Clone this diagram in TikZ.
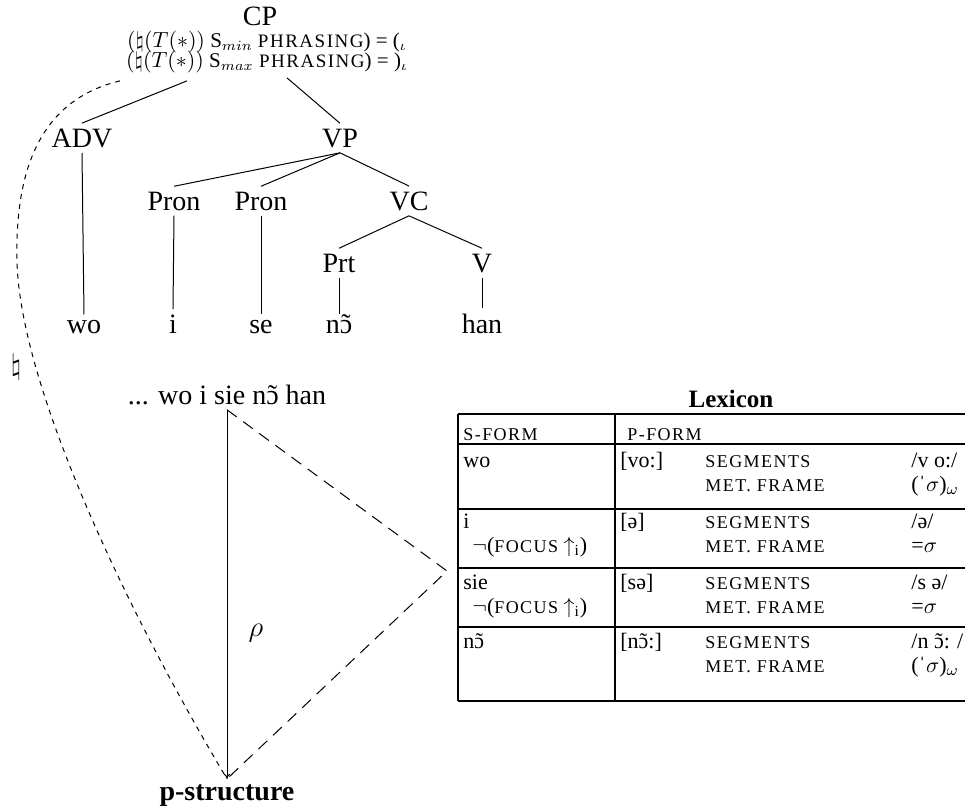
\documentclass[tikz,border=0pt]{standalone}
\usepackage{fontspec}
\setmainfont{Liberation Serif}
\newfontfamily\scfont[LetterSpace=8]{Liberation Serif}
\usetikzlibrary{arrows.meta,positioning,calc}
\newcommand{\smc}[2][9]{{\scfont\fontsize{#1}{#1}\selectfont #2}}
\newcommand{\nas}{\ooalign{ɔ\cr\hidewidth˜\hidewidth\cr}}
\tikzset{
  cat/.style={font=\fontsize{14}{16}\selectfont, inner sep=2.5pt, anchor=base},
  feat/.style={font=\fontsize{10.5}{12}\selectfont, inner sep=1pt, anchor=base},
  branch/.style={draw, line width=0.5pt},
  link/.style={draw, line width=0.5pt, dash pattern=on 2.5pt off 2.5pt},
  tri/.style={draw, line width=0.5pt, dash pattern=on 6pt off 4pt},
  proj/.style={branch, -{To[length=2.5pt,width=3pt]}},
  rule/.style={draw, line width=1pt},
  cell/.style={font=\fontsize{11}{13}\selectfont, inner sep=0pt, anchor=base west},
  lextitle/.style={font=\fontsize{12.5}{14}\selectfont\bfseries, anchor=base}
}
\begin{document}
\begin{tikzpicture}[x=0.5pt,y=-0.5pt]
\useasboundingbox (0,0) rectangle (965,811);
% c-structure
\node[cat] (cp) at (260,25) {CP};
\node[feat] (cpa) at (267,47) {$(\natural(T(*))$ S$_{min}$ \smc[9.5]{PHRASING}) = ($_\iota$};
\node[feat] (cpb) at (267,67) {$(\natural(T(*))$ S$_{max}$ \smc[9.5]{PHRASING}) = )$_\iota$};
\node[cat] (adv) at (82,147) {ADV};
\node[cat] (vp) at (340,147) {VP};
\node[cat] (pron1) at (174,210) {Pron};
\node[cat] (pron2) at (261,210) {Pron};
\node[cat] (vc) at (409,210) {VC};
\node[cat] (prt) at (339,272) {Prt};
\node[cat] (v) at (482,272) {V};
\node[cat] (wo) at (84,333) {wo};
\node[cat] (i) at (173,333) {i};
\node[cat] (se) at (261,333) {se};
\node[cat] (no) at (339,333) {n\nas};
\node[cat] (han) at (482,333) {han};
\draw[branch] ($(cpb.south)+(-80,6)$) -- (adv.north);
\draw[branch] ($(cpb.south)+(20,3)$) -- (vp.north);
\draw[branch] (vp.south) -- (pron1.north);
\draw[branch] (vp.south) -- (pron2.north);
\draw[branch] (vp.south) -- (vc.north);
\draw[branch] (vc.south) -- (prt.north);
\draw[branch] (vc.south) -- (v.north);
\draw[branch] (adv.south) -- (wo.north);
\draw[branch] (pron1.south) -- (i.north);
\draw[branch] (pron2.south) -- (se.north);
\draw[branch] (prt.south) -- (no.north);
\draw[branch] (v.south) -- (han.north);
% string and p-structure
\node[cat] (surf) at (227,404) {... wo i sie n\nas{} han};
\node[cat, font=\fontsize{14}{16}\selectfont\bfseries] (pstr) at (227,800) {p-structure};
\node[cat] (rho) at (256,636) {$\rho$};
\node[cat] (nat) at (16,374) {$\natural$};
\coordinate (apex) at (447,571);
\draw[proj] (surf.south) -- (pstr.north);
\draw[tri] (surf.south) -- (apex) -- (pstr.north);
\draw[link] ($(cpb.south)+(-147,6)$) .. controls (40,100) and (15,170) .. (17,260)
  .. controls (19,380) and (120,600) .. (pstr.north);
% lexicon
\node[lextitle] (lex) at (731,407) {Lexicon};
\foreach \y in {414,444,509,568,627,701}
  \draw[rule] (458,\y) -- (965,\y);
\draw[rule] (458,414) -- (458,701);
\draw[rule] (615,414) -- (615,701);
\node[cell] (sfh) at (463,440) {\smc{S-FORM}};
\node[cell] (pfh) at (627,440) {\smc{P-FORM}};
\foreach \y [count=\r] in {467,528,589,648} {
  \node[cell] (seg\r) at (705,\y) {\smc{SEGMENTS}};
  \node[cell] (met\r) at (705,\y+24) {\smc{MET. FRAME}};
}
\node[cell] (sf1) at (463,467) {wo};
\node[cell] (pf1) at (620,467) {[vo:]};
\node[cell] (sv1) at (911,467) {/v o:/};
\node[cell] (mv1) at (911,491) {(ˈ$\sigma$)$_\omega$};
\node[cell] (sf2) at (463,528) {i};
\node[cell] (fc2) at (472,552) {$\neg$(\smc{FOCUS} $\uparrow_{\mathrm{i}}$)};
\node[cell] (pf2) at (620,528) {[ə]};
\node[cell] (sv2) at (911,528) {/ə/};
\node[cell] (mv2) at (911,552) {=$\sigma$};
\node[cell] (sf3) at (463,589) {sie};
\node[cell] (fc3) at (472,613) {$\neg$(\smc{FOCUS} $\uparrow_{\mathrm{i}}$)};
\node[cell] (pf3) at (620,589) {[sə]};
\node[cell] (sv3) at (911,589) {/s ə/};
\node[cell] (mv3) at (911,613) {=$\sigma$};
\node[cell] (sf4) at (463,648) {n\nas};
\node[cell] (pf4) at (620,648) {[n\nas:]};
\node[cell] (sv4) at (911,648) {/n \nas: /};
\node[cell] (mv4) at (911,672) {(ˈ$\sigma$)$_\omega$};
\end{tikzpicture}
\end{document}
